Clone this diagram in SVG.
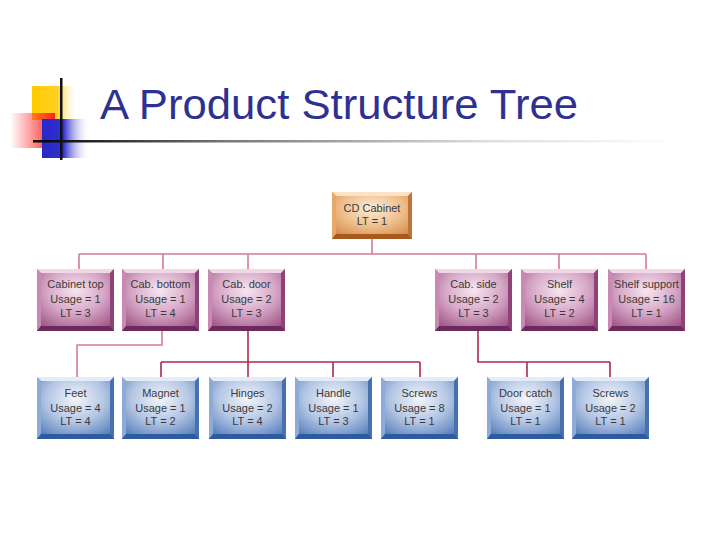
<svg xmlns="http://www.w3.org/2000/svg" width="720" height="540" viewBox="0 0 720 540">
<defs>
<style>
.t{font-family:"Liberation Sans",Arial,sans-serif;font-size:11px;fill:#3a3a3a;text-anchor:middle}
.title{font-family:"Liberation Sans",Arial,sans-serif;font-size:42px;fill:#2e3192}
.c1{stroke:#d47c98;stroke-width:1.6;fill:none}
.c2{stroke:#b02a4c;stroke-width:1.6;fill:none}
</style>
<linearGradient id="yel" x1="0" y1="0" x2="1" y2="0"><stop offset="0" stop-color="#ffcc00"/><stop offset="0.55" stop-color="#ffd020"/><stop offset="1" stop-color="#ffffff" stop-opacity="0"/></linearGradient>
<linearGradient id="red" x1="0" y1="0" x2="1" y2="0"><stop offset="0" stop-color="#ff3030" stop-opacity="0"/><stop offset="1" stop-color="#ff2020"/></linearGradient>
<linearGradient id="blu" x1="0" y1="0" x2="1" y2="0"><stop offset="0" stop-color="#2828c8"/><stop offset="0.45" stop-color="#3030cc"/><stop offset="1" stop-color="#ffffff" stop-opacity="0"/></linearGradient>
<linearGradient id="hl" x1="0" y1="0" x2="1" y2="0"><stop offset="0" stop-color="#000"/><stop offset="0.3" stop-color="#777"/><stop offset="0.7" stop-color="#ddd"/><stop offset="1" stop-color="#fff"/></linearGradient>
<radialGradient id="pg" cx="0.5" cy="0.35" r="0.75"><stop offset="0" stop-color="#f6e6f0"/><stop offset="0.5" stop-color="#d6a6c6"/><stop offset="1" stop-color="#9a4c80"/></radialGradient>
<radialGradient id="bg" cx="0.5" cy="0.35" r="0.75"><stop offset="0" stop-color="#f2f5fb"/><stop offset="0.5" stop-color="#b4c6e4"/><stop offset="1" stop-color="#4e78b8"/></radialGradient>
<radialGradient id="og" cx="0.5" cy="0.35" r="0.75"><stop offset="0" stop-color="#fcecd8"/><stop offset="0.5" stop-color="#efc08e"/><stop offset="1" stop-color="#d08440"/></radialGradient>
<g id="pbox">
<rect x="0" y="0" width="77" height="62" fill="url(#pg)"/>
<polygon points="0,0 77,0 73,4 4,4" fill="#f0d8e8"/>
<polygon points="0,0 4,4 4,57 0,62" fill="#c88ab4"/>
<polygon points="77,0 77,62 73,57 73,4" fill="#8e4276"/>
<polygon points="0,62 4,57 73,57 77,62" fill="#6c2a5c"/>
</g>
<g id="bbox">
<rect x="0" y="0" width="77" height="62" fill="url(#bg)"/>
<polygon points="0,0 77,0 73,4 4,4" fill="#e4ecf8"/>
<polygon points="0,0 4,4 4,57 0,62" fill="#8eaad6"/>
<polygon points="77,0 77,62 73,57 73,4" fill="#4670b0"/>
<polygon points="0,62 4,57 73,57 77,62" fill="#2e5aa0"/>
</g>
</defs>
<rect width="720" height="540" fill="#ffffff"/>
<g id="title">
<rect x="32" y="86" width="46" height="34" fill="url(#yel)"/>
<rect x="10" y="113" width="45" height="35" fill="url(#red)"/>
<rect x="42" y="119" width="48" height="39" fill="url(#blu)"/>
<rect x="33" y="140" width="647" height="2.5" fill="url(#hl)"/>
<rect x="60" y="78" width="2.5" height="82" fill="#111"/>
<text class="title" x="100" y="119" textLength="478" lengthAdjust="spacingAndGlyphs">A Product Structure Tree</text>
</g>
<g id="connectors">
<path class="c1" d="M372 239V254M79 254H646M79 254V269M163 254V269M248 254V269M476 254V269M559 254V269M646 254V269"/>
<path class="c1" d="M162 330V345H77V377"/>
<path class="c2" d="M248 330V377M161 362H420M161 362V377M333 362V377M420 362V377"/>
<path class="c2" d="M478 330V362H610M527 362V377M610 362V377"/>
</g>
<g id="n-cd-cabinet">
<rect x="332" y="192" width="80" height="47" fill="url(#og)"/>
<polygon points="332,192 412,192 408,196 336,196" fill="#fbe2c4"/>
<polygon points="332,192 336,196 336,234 332,239" fill="#e8a86a"/>
<polygon points="412,192 412,239 408,234 408,196" fill="#c07436"/>
<polygon points="332,239 336,234 408,234 412,239" fill="#a85a1e"/>
<text class="t" x="372" y="212">CD Cabinet</text>
<text class="t" x="372" y="225">LT = 1</text>
</g>
<g id="n-cabinet-top"><use href="#pbox" x="37" y="269"/>
<text class="t" x="75.5" y="288">Cabinet top</text><text class="t" x="75.5" y="303">Usage = 1</text><text class="t" x="75.5" y="317">LT = 3</text></g>
<g id="n-cab-bottom"><use href="#pbox" x="122" y="269"/>
<text class="t" x="160.5" y="288">Cab. bottom</text><text class="t" x="160.5" y="303">Usage = 1</text><text class="t" x="160.5" y="317">LT = 4</text></g>
<g id="n-cab-door"><use href="#pbox" x="208" y="269"/>
<text class="t" x="246.5" y="288">Cab. door</text><text class="t" x="246.5" y="303">Usage = 2</text><text class="t" x="246.5" y="317">LT = 3</text></g>
<g id="n-cab-side"><use href="#pbox" x="435" y="269"/>
<text class="t" x="473.5" y="288">Cab. side</text><text class="t" x="473.5" y="303">Usage = 2</text><text class="t" x="473.5" y="317">LT = 3</text></g>
<g id="n-shelf"><use href="#pbox" x="521" y="269"/>
<text class="t" x="559.5" y="288">Shelf</text><text class="t" x="559.5" y="303">Usage = 4</text><text class="t" x="559.5" y="317">LT = 2</text></g>
<g id="n-shelf-support"><use href="#pbox" x="608" y="269"/>
<text class="t" x="646.5" y="288">Shelf support</text><text class="t" x="646.5" y="303">Usage = 16</text><text class="t" x="646.5" y="317">LT = 1</text></g>
<g id="n-feet"><use href="#bbox" x="37" y="377"/>
<text class="t" x="75.5" y="397">Feet</text><text class="t" x="75.5" y="412">Usage = 4</text><text class="t" x="75.5" y="425">LT = 4</text></g>
<g id="n-magnet"><use href="#bbox" x="122" y="377"/>
<text class="t" x="160.5" y="397">Magnet</text><text class="t" x="160.5" y="412">Usage = 1</text><text class="t" x="160.5" y="425">LT = 2</text></g>
<g id="n-hinges"><use href="#bbox" x="209" y="377"/>
<text class="t" x="247.5" y="397">Hinges</text><text class="t" x="247.5" y="412">Usage = 2</text><text class="t" x="247.5" y="425">LT = 4</text></g>
<g id="n-handle"><use href="#bbox" x="295" y="377"/>
<text class="t" x="333.5" y="397">Handle</text><text class="t" x="333.5" y="412">Usage = 1</text><text class="t" x="333.5" y="425">LT = 3</text></g>
<g id="n-screws-1"><use href="#bbox" x="381" y="377"/>
<text class="t" x="419.5" y="397">Screws</text><text class="t" x="419.5" y="412">Usage = 8</text><text class="t" x="419.5" y="425">LT = 1</text></g>
<g id="n-door-catch"><use href="#bbox" x="487" y="377"/>
<text class="t" x="525.5" y="397">Door catch</text><text class="t" x="525.5" y="412">Usage = 1</text><text class="t" x="525.5" y="425">LT = 1</text></g>
<g id="n-screws-2"><use href="#bbox" x="572" y="377"/>
<text class="t" x="610.5" y="397">Screws</text><text class="t" x="610.5" y="412">Usage = 2</text><text class="t" x="610.5" y="425">LT = 1</text></g>
</svg>
